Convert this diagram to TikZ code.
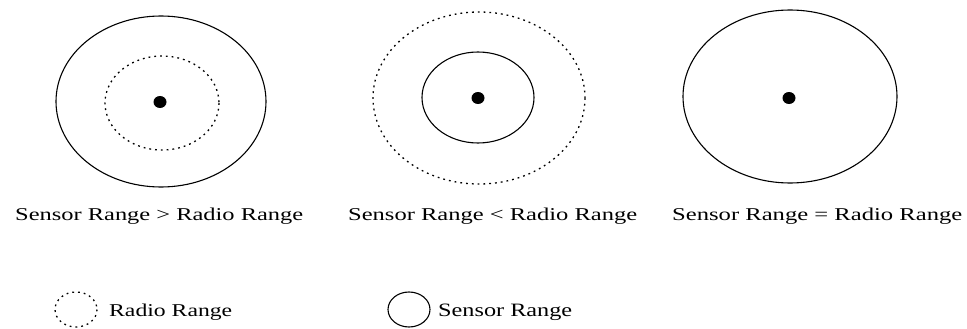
\documentclass[tikz,border=0pt]{standalone}
\usepackage{graphicx}
\usepackage{fontspec}
\setmainfont{Liberation Serif}
\begin{document}
\begin{tikzpicture}[x=1pt,y=-1pt,
  solidring/.style={line width=1.1pt},
  dotring/.style={line width=1.3pt, dash pattern=on 1.8pt off 4pt},
  centerdot/.style={fill=black},
  caption/.style={anchor=base west, inner sep=0pt}]
\useasboundingbox (0,0) rectangle (967,329);

% Case 1: sensor > radio
\draw[solidring] (161,101.5) ellipse [x radius=105, y radius=85.5];
\draw[dotring] (162,103) ellipse [x radius=57, y radius=47];
\fill[centerdot] (160,102) ellipse [x radius=6.5, y radius=6];

% Case 2: sensor < radio
\draw[dotring] (479,98) ellipse [x radius=106, y radius=86];
\draw[solidring] (478,97.5) ellipse [x radius=56, y radius=45.5];
\fill[centerdot] (478,98) ellipse [x radius=6.5, y radius=6];

% Case 3: sensor = radio
\draw[solidring] (790,96.5) ellipse [x radius=107, y radius=86.5];
\fill[centerdot] (789,98) ellipse [x radius=6.5, y radius=6];

% captions
\node[caption] (lab1) at (15,220) {\resizebox{288pt}{12.5pt}{Sensor Range > Radio Range}};
\node[caption] (lab2) at (348,220) {\resizebox{289pt}{12.5pt}{Sensor Range < Radio Range}};
\node[caption] (lab3) at (672,220) {\resizebox{290pt}{12.5pt}{Sensor Range = Radio Range}};

% legend
\draw[dotring] (76,309.5) ellipse [x radius=21, y radius=17.5];
\node[caption] (leg1) at (109,316) {\resizebox{123pt}{12.5pt}{Radio Range}};
\draw[solidring] (409,309.5) ellipse [x radius=21, y radius=17.5];
\node[caption] (leg2) at (438,316) {\resizebox{134pt}{12.5pt}{Sensor Range}};
\end{tikzpicture}
\end{document}
